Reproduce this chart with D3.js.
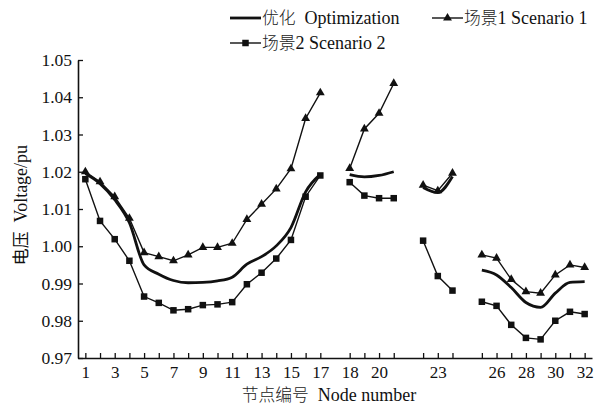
<!DOCTYPE html>
<html>
<head>
<meta charset="utf-8">
<script src="https://cdn.jsdelivr.net/npm/d3@7"></script>
<style>
  html, body { margin: 0; padding: 0; background: #fff; }
  svg text { font-family: "Liberation Serif", "Noto Sans CJK SC", serif; fill: #111; }
  svg tspan.cjk { font-family: "Noto Sans CJK SC", sans-serif; font-weight: 300; fill: #222; font-size: 16.8px; }
  svg text.ytitle tspan.cjk { font-weight: 400; fill: #111; }
</style>
</head>
<body>
<svg id="chart" width="606" height="406"></svg>
<script>
// ---- data ----
const segments = [
  [1,2,3,4,5,6,7,8,9,10,11,12,13,14,15,16,17],
  [18,19,20,21],
  [22,23,24],
  [25,26,27,28,29,30,31,32]
];
const xTickLabels = [1,3,5,7,9,11,13,15,17,18,20,23,26,28,30,32];
const yTicks = [0.97,0.98,0.99,1.00,1.01,1.02,1.03,1.04,1.05];

const optimization = [1.0195,1.0168,1.0125,1.0063,0.9950,0.9925,0.9908,0.9902,0.9903,0.9907,0.9917,0.9952,0.9972,1.0001,1.0050,1.0146,1.0193,
  1.0192,1.0186,1.0190,1.0200,
  1.0158,1.0144,1.0187,
  0.9936,0.9923,0.9889,0.9849,0.9836,0.9874,0.9903,0.9905];
const scenario1 = [1.0200,1.0173,1.0133,1.0075,0.9983,0.9972,0.9961,0.9977,0.9997,0.9997,1.0008,1.0072,1.0113,1.0154,1.0208,1.0343,1.0412,
  1.0209,1.0315,1.0357,1.0437,
  1.0164,1.0149,1.0196,
  0.9977,0.9968,0.9911,0.9878,0.9874,0.9923,0.9950,0.9943];
const scenario2 = [1.0180,1.0068,1.0019,0.9961,0.9865,0.9848,0.9828,0.9831,0.9842,0.9844,0.9850,0.9898,0.9929,0.9967,1.0017,1.0133,1.0190,
  1.0172,1.0136,1.0129,1.0129,
  1.0015,0.9920,0.9881,
  0.9851,0.9840,0.9789,0.9754,0.9750,0.9800,0.9824,0.9818];

// [Chinese part, English part]
const legendLabels = [["优化", "\u00A0\u00A0Optimization"], ["场景", "1 Scenario 1"], ["场景", "2 Scenario 2"]];
const xTitle = ["节点编号", "\u00A0\u00A0Node number"];
const yTitle = ["电压", "\u00A0\u00A0Voltage/pu"];

// ---- layout ----
const svg = d3.select("#chart");
const mLeft = 78, mRight = 592, mTop = 60, mBottom = 358;
const fs = 18;

// node -> axis position (one empty slot between segments)
const posOf = new Map();
segments.forEach((seg, si) => seg.forEach(n => posOf.set(n, n - 1 + si)));
const maxPos = d3.max([...posOf.values()]);

const x = d3.scaleLinear().domain([-0.5, maxPos + 0.5]).range([mLeft, mRight]);
const y = d3.scaleLinear().domain([0.97, 1.05]).range([mBottom, mTop]);

// axes
const allNodes = segments.flat();
const xAxis = d3.axisBottom(x)
  .tickValues(allNodes.map(n => posOf.get(n)))
  .tickSizeInner(-5).tickSizeOuter(0).tickPadding(7.5)
  .tickFormat(p => {
    const n = allNodes.find(k => posOf.get(k) === p);
    return xTickLabels.includes(n) ? String(n) : "";
  });
const gx = svg.append("g").attr("transform", `translate(0,${mBottom})`).call(xAxis);

const yAxis = d3.axisLeft(y).tickValues(yTicks)
  .tickSizeInner(-5).tickSizeOuter(0).tickPadding(6)
  .tickFormat(d3.format(".2f"));
const gy = svg.append("g").attr("transform", `translate(${mLeft},0)`).call(yAxis);

[gx, gy].forEach(g => {
  g.selectAll("path.domain").attr("stroke", "#111").attr("stroke-width", 1.6);
  g.selectAll(".tick line").attr("stroke", "#111").attr("stroke-width", 1.3);
  g.selectAll(".tick text").attr("font-size", 17).attr("font-family", "Liberation Serif").attr("fill", "#111");
});
gy.selectAll(".tick text").attr("font-size", 17.5);

function mixedText(sel, parts) {
  sel.append("tspan").attr("class", "cjk").text(parts[0]);
  sel.append("tspan").text(parts[1]);
  return sel;
}

// titles
mixedText(svg.append("text").attr("x", 329).attr("y", 401).attr("text-anchor", "middle")
  .attr("font-size", fs), xTitle);
mixedText(svg.append("text").attr("class", "ytitle").attr("transform", `translate(27,${205}) rotate(-90)`)
  .attr("text-anchor", "middle").attr("font-size", fs), yTitle);

// series
function segData(values) {
  return segments.map(seg => seg.map(n => ({ n, p: posOf.get(n), v: values[n - 1] })));
}
const lineStraight = d3.line().x(d => x(d.p)).y(d => y(d.v));
const lineSmooth = d3.line().x(d => x(d.p)).y(d => y(d.v)).curve(d3.curveMonotoneX);

const plot = svg.append("g");

// scenario 2 (squares)
segData(scenario2).forEach(seg => {
  plot.append("path").attr("d", lineStraight(seg)).attr("fill", "none")
    .attr("stroke", "#111").attr("stroke-width", 1.4);
});
const sqSize = 6.5;
plot.selectAll("rect.sq").data(segData(scenario2).flat()).join("rect")
  .attr("class", "sq")
  .attr("x", d => x(d.p) - sqSize / 2).attr("y", d => y(d.v) - sqSize / 2)
  .attr("width", sqSize).attr("height", sqSize).attr("fill", "#111");

// scenario 1 (triangles)
segData(scenario1).forEach(seg => {
  plot.append("path").attr("d", lineStraight(seg)).attr("fill", "none")
    .attr("stroke", "#111").attr("stroke-width", 1.4);
});
const tri = d3.symbol().type(d3.symbolTriangle).size(34);
plot.selectAll("path.tri").data(segData(scenario1).flat()).join("path")
  .attr("class", "tri")
  .attr("transform", d => `translate(${x(d.p)},${y(d.v)})`)
  .attr("d", tri).attr("fill", "#111");

// optimization (thick smooth line)
segData(optimization).forEach(seg => {
  plot.append("path").attr("d", lineSmooth(seg)).attr("fill", "none")
    .attr("stroke", "#111").attr("stroke-width", 2.8);
});

// legend
const lg = svg.append("g");
function legendItem(x0, y0, kind, label) {
  lg.append("line").attr("x1", x0).attr("x2", x0 + 31).attr("y1", y0).attr("y2", y0)
    .attr("stroke", "#111").attr("stroke-width", kind === "opt" ? 2.8 : 1.4);
  if (kind === "tri") {
    lg.append("path").attr("transform", `translate(${x0 + 15.5},${y0})`).attr("d", tri).attr("fill", "#111");
  } else if (kind === "sq") {
    lg.append("rect").attr("x", x0 + 15.5 - sqSize / 2).attr("y", y0 - sqSize / 2)
      .attr("width", sqSize).attr("height", sqSize).attr("fill", "#111");
  }
  mixedText(lg.append("text").attr("x", x0 + 32).attr("y", y0 + 6).attr("font-size", fs), label);
}
legendItem(230, 18, "opt", legendLabels[0]);
legendItem(432, 18, "tri", legendLabels[1]);
legendItem(230, 43, "sq", legendLabels[2]);
</script>
</body>
</html>
